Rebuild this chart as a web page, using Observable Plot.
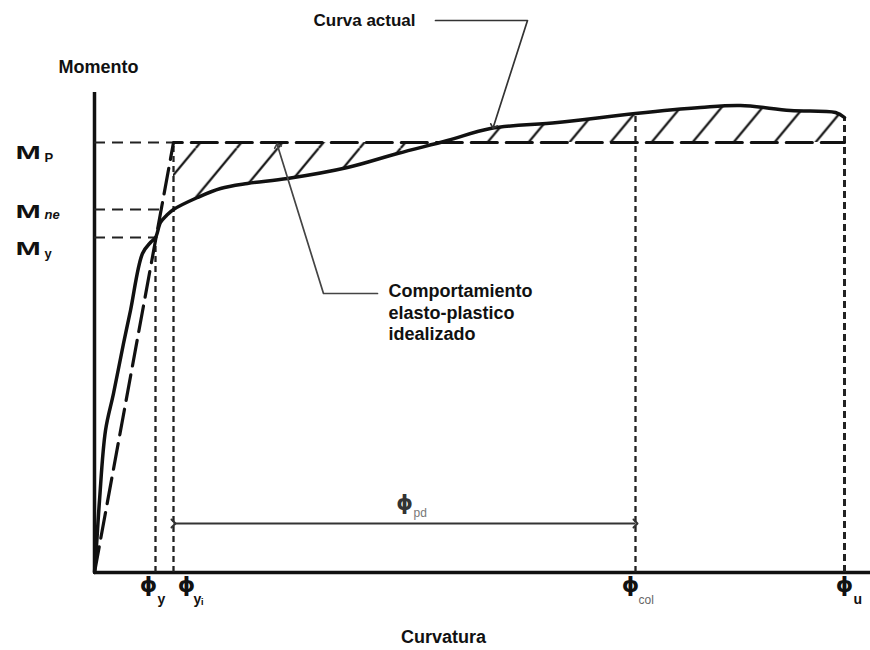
<!DOCTYPE html>
<html>
<head>
<meta charset="utf-8">
<script src="https://cdn.jsdelivr.net/npm/d3@7"></script>
<script src="https://cdn.jsdelivr.net/npm/@observablehq/plot@0.6"></script>
<style>
  html, body { margin: 0; padding: 0; background: #fff; }
</style>
</head>
<body>
<div id="chart"></div>
<script>
// ---------------- DATA (curvature units / moment units) ----------------
const curvePhi    = [0, 2, 5, 11, 19, 29, 36, 48, 56, 61, 66, 72, 79, 103, 126, 153, 193, 253, 303, 353, 396, 463, 541, 606, 646, 696, 741, 750];
const curveMoment = [0, 27, 72, 142, 179, 229, 262, 319, 330, 335, 350, 357, 363, 375, 384, 389, 394, 405, 419, 432, 444, 450, 459, 465, 467, 462, 460, 455];

const idealPhi    = [0, 79, 750];
const idealMoment = [0, 430, 430];

const momentNames = ["M", "M", "M"];
const momentSubs  = ["P", "ne", "y"];
const momentValues = [430, 363, 335];
const momentLineEnds = [79, 66, 61];

const phiSubs   = ["y", "yᵢ", "col", "u"];
const phiValues = [61, 79, 541, 750];
const phiTops   = [335, 430, 459, 455];

const pdSub = "pd";
const pdFrom = 79, pdTo = 541;

const yTitle = "Momento";
const xTitle = "Curvatura";
const curvaLabel = "Curva actual";
const idealLabel = "Comportamiento\nelasto-plastico\nidealizado";

// annotation anchors (data units)
const curvaLeaderX = [341, 433, 399];
const curvaLeaderY = [552, 552, 446];
const idealLeaderX = [283, 229, 183];
const idealLeaderY = [279, 279, 427];

// ---------------- derived tables ----------------
const curve = curvePhi.map((x, i) => ({x, m: curveMoment[i]}));
const ideal = idealPhi.map((x, i) => ({x, m: idealMoment[i]}));
const Mp = idealMoment[1];
const phiYi = idealPhi[1];
const hatch = curve.filter(d => d.x >= phiYi);
const mLines = momentValues.map((v, i) => ({v, end: momentLineEnds[i]}));
const phiLines = phiValues.map((x, i) => ({x, top: phiTops[i]}));
const curvaLeader = curvaLeaderX.map((x, i) => ({x, y: curvaLeaderY[i]}));
const idealLeader = idealLeaderX.map((x, i) => ({x, y: idealLeaderY[i]}));

// layout offsets (pixels) for labels
const mOffsets = [{dy: 10, sdy: 15}, {dy: 2, sdy: 5}, {dy: 11, sdy: 16}];
const phiOffsets = [
  {dx: -7, sdx: 2, sw: "bold", sc: "#111"},
  {dx: 13, sdx: 20, sw: "bold", sc: "#111"},
  {dx: -5, sdx: 3, sw: "normal", sc: "#666"},
  {dx: 0, sdx: 9, sw: "bold", sc: "#111"}
];

const stretch = (k) => function (index, scales, values, dimensions, context, next) {
  const g = next(index, scales, values, dimensions, context);
  d3.select(g).selectAll("text").attr("transform", function () {
    return (this.getAttribute("transform") || "") + ` scale(${k},1)`;
  });
  return g;
};

const FONT = "'Liberation Sans', Arial, sans-serif";
const PHI = "ϕ";

const marks = [
  // hatched region between actual and idealized curves
  Plot.areaY(hatch, {x: "x", y1: Mp, y2: "m", fill: "url(#hatch)", curve: "catmull-rom"}),
  // axes
  Plot.ruleX([0], {y1: 0, y2: 480, strokeWidth: 3.5, stroke: "#111"}),
  Plot.ruleY([0], {x1: 0, x2: 776, strokeWidth: 3.5, stroke: "#111"}),
  // horizontal reference lines
  Plot.ruleY(mLines, {y: "v", x1: 0, x2: "end", stroke: "#222", strokeWidth: 2, strokeDasharray: "11,7"}),
  // vertical reference lines
  Plot.ruleX(phiLines.slice(0, 3), {x: "x", y1: 0, y2: "top", stroke: "#222", strokeWidth: 2.3, strokeDasharray: "6,4"}),
  Plot.ruleX(phiLines.slice(3), {x: "x", y1: 0, y2: "top", stroke: "#222", strokeWidth: 3, strokeDasharray: "7,4"}),
  // idealized elasto-plastic
  Plot.line(ideal, {x: "x", y: "m", stroke: "#111", strokeWidth: 3.2, strokeDasharray: "26,9"}),
  // actual curve
  Plot.line(curve, {x: "x", y: "m", stroke: "#111", strokeWidth: 3.5, curve: "catmull-rom"}),
  // phi_pd double arrow
  Plot.link([{x1: pdFrom, x2: pdTo, y: 49}], {x1: "x1", x2: "x2", y1: "y", y2: "y", stroke: "#333", strokeWidth: 2, markerStart: "arrow", markerEnd: "arrow"}),
  // leaders
  Plot.line(curvaLeader, {x: "x", y: "y", stroke: "#333", strokeWidth: 1.7, markerEnd: "arrow"}),
  Plot.line(idealLeader, {x: "x", y: "y", stroke: "#444", strokeWidth: 1.7, markerEnd: "arrow"}),
  // titles / annotations
  Plot.text([yTitle], {x: -36, y: 505, text: d => d, textAnchor: "start", fontSize: 18, fontWeight: "bold", fill: "#111"}),
  Plot.text([xTitle], {x: 349, y: -65, text: d => d, fontSize: 18, fontWeight: "bold", fill: "#111"}),
  Plot.text([curvaLabel], {x: 219, y: 552, text: d => d, textAnchor: "start", fontSize: 17, fontWeight: "bold", fill: "#111"}),
  Plot.text([idealLabel], {x: 294, y: 261, text: d => d, textAnchor: "start", fontSize: 18, fontWeight: "bold", fill: "#111", lineHeight: 1.22}),
  // phi_pd label
  Plot.text([PHI], {x: (pdFrom + pdTo) / 2, y: 49, text: d => d, dy: -20, fontSize: 21, fontWeight: "bold", fontFamily: "DejaVu Sans", fill: "#333"}),
  Plot.text([pdSub], {x: (pdFrom + pdTo) / 2, y: 49, text: d => d, dx: 9, dy: -10, textAnchor: "start", fontSize: 12, fill: "#777"})
];

// moment tick labels
momentValues.forEach((v, i) => {
  const o = mOffsets[i];
  marks.push(Plot.text([v], {y: d => d, text: () => momentNames[i], frameAnchor: "left", textAnchor: "start", dx: -79, dy: o.dy, fontSize: 19, fontWeight: "bold", fill: "#111", render: stretch(1.6)}));
  marks.push(Plot.text([v], {y: d => d, text: () => momentSubs[i], frameAnchor: "left", textAnchor: "start", dx: -50, dy: o.sdy, fontSize: 13, fontWeight: "bold", fontStyle: i === 1 ? "italic" : "normal", fill: "#111"}));
});

// curvature tick labels
phiValues.forEach((x, i) => {
  const o = phiOffsets[i];
  marks.push(Plot.text([x], {x: d => d, text: () => PHI, frameAnchor: "bottom", dx: o.dx, dy: 19, fontSize: 22, fontWeight: "bold", fontFamily: "DejaVu Sans", fill: "#111"}));
  marks.push(Plot.text([x], {x: d => d, text: () => phiSubs[i], frameAnchor: "bottom", textAnchor: "start", dx: o.sdx, dy: 31, fontSize: i === 2 ? 12 : 14, fontWeight: o.sw, fill: o.sc}));
});

const chart = Plot.plot({
  width: 870,
  height: 650,
  marginLeft: 94,
  marginRight: 0,
  marginTop: 92,
  marginBottom: 78,
  x: {domain: [0, 776], axis: null},
  y: {domain: [0, 480], axis: null},
  style: {fontFamily: FONT, background: "#fff", color: "#111", overflow: "visible"},
  marks
});

// hatch pattern definition
const W = 41, H = W * 47 / 39;
const ox = (200 + 143 * (39 / 47)) % W;
const defs = d3.select(chart).insert("defs", ":first-child");
const pat = defs.append("pattern")
  .attr("id", "hatch")
  .attr("patternUnits", "userSpaceOnUse")
  .attr("width", W).attr("height", H)
  .attr("x", ox).attr("y", 0);
pat.append("path")
  .attr("d", `M0,0L${-W},${H}M${W},0L0,${H}M${2 * W},0L${W},${H}`)
  .attr("stroke", "#111").attr("stroke-width", 2.2).attr("fill", "none");

document.getElementById("chart").appendChild(chart);
</script>
</body>
</html>
